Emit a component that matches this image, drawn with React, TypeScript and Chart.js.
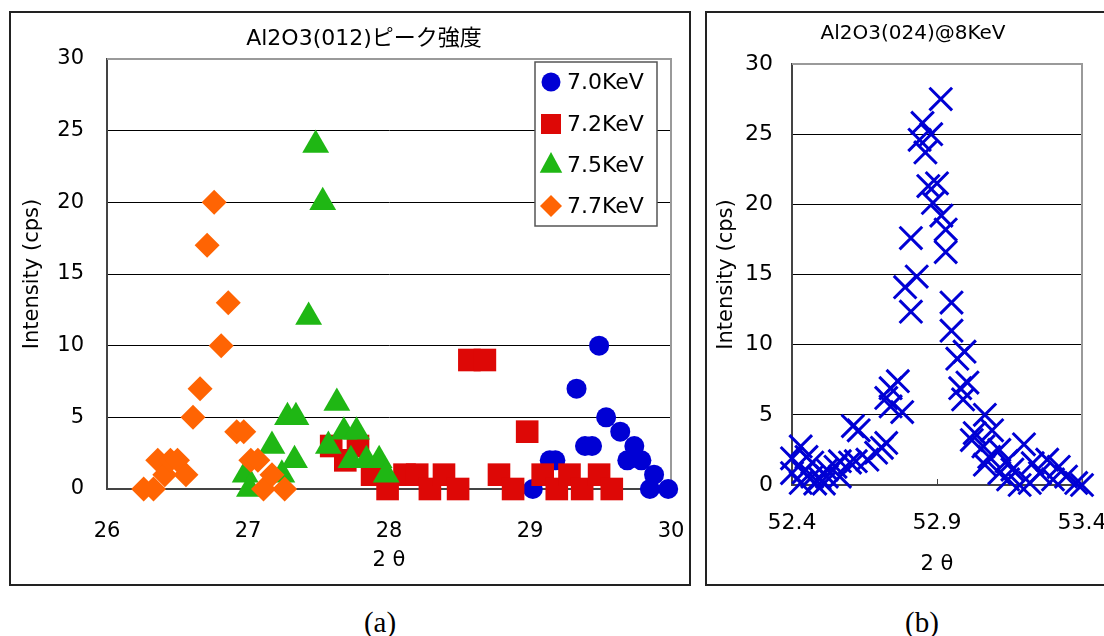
import React, { useEffect, useRef } from "react";
import { Chart, registerables } from "chart.js";

Chart.register(...registerables);

// ---------- data: chart (a) Al2O3(012) ----------
const seriesNames = ["7.0KeV", "7.2KeV", "7.5KeV", "7.7KeV"];
const seriesColors = ["#0000D4", "#DD0806", "#1FB714", "#FF6403"];

const x70 = [29.02, 29.14, 29.18, 29.33, 29.39, 29.44, 29.49, 29.54, 29.64, 29.69, 29.74, 29.79, 29.85, 29.88, 29.98];
const y70 = [0, 2, 2, 7, 3, 3, 10, 5, 4, 2, 3, 2, 0, 1, 0];

const x72 = [27.59, 27.69, 27.78, 27.88, 27.99, 28.11, 28.2, 28.29, 28.39, 28.49, 28.57, 28.68, 28.78, 28.88, 28.98, 29.09, 29.19, 29.28, 29.37, 29.49, 29.58];
const y72 = [3, 2, 3, 1, 0, 1, 1, 0, 1, 0, 9, 9, 1, 0, 4, 1, 0, 1, 0, 1, 0];

const x75 = [26.98, 27.01, 27.17, 27.24, 27.28, 27.33, 27.34, 27.43, 27.48, 27.53, 27.57, 27.63, 27.68, 27.73, 27.77, 27.84, 27.93, 27.98];
const y75 = [1, 0, 3, 1, 5, 2, 5, 12, 24, 20, 3, 6, 4, 2, 4, 2, 2, 1];

const x77 = [26.26, 26.33, 26.36, 26.41, 26.45, 26.5, 26.56, 26.61, 26.66, 26.71, 26.76, 26.81, 26.86, 26.92, 26.97, 27.02, 27.07, 27.11, 27.17, 27.26];
const y77 = [0, 0, 2, 1, 2, 2, 1, 5, 7, 17, 20, 10, 13, 4, 4, 2, 2, 0, 1, 0];

const xTicksA = [26, 27, 28, 29, 30];
const yTicks = [0, 5, 10, 15, 20, 25, 30];

// ---------- data: chart (b) Al2O3(024)@8KeV ----------
const x024 = [
  52.4, 52.4, 52.43, 52.43, 52.44, 52.45, 52.47, 52.47, 52.48, 52.495, 52.51, 52.52, 52.52, 52.55, 52.565, 52.565,
  52.6, 52.61, 52.62, 52.63, 52.66, 52.69, 52.71, 52.725, 52.725, 52.74, 52.74, 52.765, 52.78,
  52.79, 52.81, 52.81, 52.83, 52.84, 52.85, 52.86, 52.87, 52.88, 52.886, 52.9, 52.913, 52.915, 52.93, 52.93, 52.95, 52.95,
  52.97, 52.995, 52.98, 53.005, 52.99, 53.02, 53.03, 53.06, 53.065, 53.065, 53.08, 53.09, 53.115, 53.115, 53.14, 53.145,
  53.16, 53.185, 53.2, 53.22, 53.23, 53.255, 53.28, 53.3, 53.32, 53.345, 53.38, 53.4,
];
const y024 = [
  1.9, 0.85, 2.75, 0.15, 0.9, 2.0, 1.6, 0.6, 0.1, 0.5, 0.1, 1.1, 0.6, 1.3, 1.7, 0.6,
  1.6, 4.2, 1.7, 3.9, 1.8, 2.3, 2.65, 3.0, 6.2, 6.9, 5.6, 7.4, 5.2,
  14.1, 17.6, 12.35, 14.85, 24.6, 25.8, 23.7, 21.3, 25.0, 20.1, 21.5, 27.5, 19.2, 18.2, 16.6, 13.0, 11.0,
  9.0, 9.5, 6.9, 7.3, 6.1, 3.2, 3.7, 2.75, 5.0, 1.45, 2.0, 3.9, 2.5, 0.85, 1.7, 0.4,
  1.1, 0.0, 2.9, 0.15, 1.55, 0.85, 1.8, 0.4, 1.3, 0.6, 0.15, 0.0,
];
const xTicksB = [52.4, 52.9, 53.4];

const FONT = "'DejaVu Sans', 'Noto Sans CJK JP', sans-serif";

const toPts = (xs: number[], ys: number[]) => xs.map((x, i) => ({ x, y: ys[i] }));

const plotFrame = {
  id: "plotFrame",
  beforeDatasetsDraw(chart: any) {
    const { ctx, chartArea } = chart;
    const { left, right, top, bottom } = chartArea;
    ctx.save();
    ctx.strokeStyle = "#9a9a9a";
    ctx.lineWidth = 2;
    ctx.beginPath();
    ctx.moveTo(left, top);
    ctx.lineTo(right, top);
    ctx.lineTo(right, bottom);
    ctx.stroke();
    // small inside tick marks on the x axis
    const xs = chart.scales.x;
    ctx.strokeStyle = "#444";
    ctx.lineWidth = 1;
    xs.ticks.forEach((t: any) => {
      const px = Math.round(xs.getPixelForValue(t.value)) + 0.5;
      ctx.beginPath();
      ctx.moveTo(px, bottom);
      ctx.lineTo(px, bottom - 6);
      ctx.stroke();
    });
    ctx.restore();
  },
};

const titlePlugin = (text: string, x: number, y: number, size: number) => ({
  id: "titleText",
  afterDraw(chart: any) {
    const ctx = chart.ctx;
    ctx.save();
    ctx.font = `${size}px ${FONT}`;
    ctx.fillStyle = "#000";
    ctx.textAlign = "center";
    ctx.textBaseline = "middle";
    ctx.fillText(text, x, y);
    ctx.restore();
  },
});

function drawMarker(ctx: CanvasRenderingContext2D, style: string, x: number, y: number, color: string) {
  ctx.fillStyle = color;
  ctx.beginPath();
  if (style === "circle") {
    ctx.arc(x, y, 9.5, 0, Math.PI * 2);
  } else if (style === "rect") {
    ctx.rect(x - 10, y - 10, 20, 20);
  } else if (style === "triangle") {
    const r = 13;
    ctx.moveTo(x, y - r);
    ctx.lineTo(x + r * 0.866, y + r * 0.6);
    ctx.lineTo(x - r * 0.866, y + r * 0.6);
    ctx.closePath();
  } else {
    const r = 11;
    ctx.moveTo(x, y - r);
    ctx.lineTo(x + r, y);
    ctx.lineTo(x, y + r);
    ctx.lineTo(x - r, y);
    ctx.closePath();
  }
  ctx.fill();
}

const legendStyles = ["circle", "rect", "triangle", "rectRot"];

const legendPlugin = {
  id: "boxLegend",
  afterDraw(chart: any) {
    const ctx = chart.ctx as CanvasRenderingContext2D;
    ctx.save();
    ctx.fillStyle = "#fff";
    ctx.fillRect(524, 49, 122, 164);
    ctx.strokeStyle = "#555";
    ctx.lineWidth = 1.5;
    ctx.strokeRect(524, 49, 122, 164);
    const ys = [69, 111, 152, 193];
    seriesNames.forEach((name, i) => {
      drawMarker(ctx, legendStyles[i], 540, ys[i], seriesColors[i]);
      ctx.fillStyle = "#000";
      ctx.font = `22px ${FONT}`;
      ctx.textAlign = "left";
      ctx.textBaseline = "middle";
      ctx.fillText(name, 556, ys[i] + 1);
    });
    ctx.restore();
  },
};

function makeA(canvas: HTMLCanvasElement) {
  const ds = (i: number, xs: number[], ys: number[], style: string, r: number, order: number) => ({
    label: seriesNames[i],
    data: toPts(xs, ys),
    pointStyle: style,
    pointRadius: r,
    pointHoverRadius: r,
    pointBackgroundColor: seriesColors[i],
    pointBorderColor: seriesColors[i],
    pointBorderWidth: 0,
    backgroundColor: seriesColors[i],
    borderColor: seriesColors[i],
    showLine: false,
    clip: false as any,
    order,
  });
  return new Chart(canvas, {
    type: "scatter",
    data: {
      datasets: [
        ds(0, x70, y70, "circle", 10, 4),
        ds(1, x72, y72, "rect", 16, 3),
        ds(2, x75, y75, "triangle", 15.5, 2),
        ds(3, x77, y77, "rectRot", 12.5, 1),
      ] as any,
    },
    options: {
      responsive: false,
      animation: false,
      devicePixelRatio: 1,
      layout: { padding: { top: 46, right: 18, left: 0, bottom: 0 } },
      plugins: { legend: { display: false }, tooltip: { enabled: false }, title: { display: false } },
      scales: {
        x: {
          type: "linear",
          min: 26,
          max: 30,
          afterBuildTicks: (s: any) => {
            s.ticks = xTicksA.map((v) => ({ value: v }));
          },
          afterFit: (s: any) => {
            s.height = 95;
            s.paddingLeft = 0;
            s.paddingRight = 0;
          },
          ticks: { font: { size: 21, family: FONT }, color: "#000", padding: 30, autoSkip: false, maxRotation: 0 },
          grid: { display: false, drawTicks: false },
          border: { display: true, color: "#444", width: 2 },
          title: { display: true, text: "2 θ", font: { size: 21, family: FONT }, color: "#000", padding: { top: 0, bottom: 11 } },
        },
        y: {
          type: "linear",
          min: 0,
          max: 30,
          afterBuildTicks: (s: any) => {
            s.ticks = yTicks.map((v) => ({ value: v }));
          },
          afterFit: (s: any) => {
            s.width = 96;
            s.paddingTop = 0;
            s.paddingBottom = 0;
          },
          ticks: { font: { size: 21, family: FONT }, color: "#000", padding: 23 },
          grid: { color: "#000", lineWidth: 1, drawTicks: false },
          border: { display: true, color: "#444", width: 2 },
          title: { display: true, text: "Intensity (cps)", font: { size: 21, family: FONT }, color: "#000", padding: { top: 9, bottom: 0 } },
        },
      },
    } as any,
    plugins: [plotFrame, titlePlugin("Al2O3(012)ピーク強度", 353, 26, 22), legendPlugin] as any,
  });
}

function makeB(canvas: HTMLCanvasElement) {
  return new Chart(canvas, {
    type: "scatter",
    data: {
      datasets: [
        {
          label: "Al2O3(024)@8KeV",
          data: toPts(x024, y024),
          pointStyle: "crossRot",
          pointRadius: 16,
          pointHoverRadius: 16,
          pointBorderColor: "#0000D4",
          pointBackgroundColor: "#0000D4",
          pointBorderWidth: 3,
          borderColor: "#0000D4",
          showLine: false,
          clip: false,
        },
      ] as any,
    },
    options: {
      responsive: false,
      animation: false,
      devicePixelRatio: 1,
      layout: { padding: { top: 51, right: 22, left: 0, bottom: 0 } },
      plugins: { legend: { display: false }, tooltip: { enabled: false }, title: { display: false } },
      scales: {
        x: {
          type: "linear",
          min: 52.4,
          max: 53.4,
          afterBuildTicks: (s: any) => {
            s.ticks = xTicksB.map((v) => ({ value: v }));
          },
          afterFit: (s: any) => {
            s.height = 99;
            s.paddingLeft = 0;
            s.paddingRight = 0;
          },
          ticks: {
            font: { size: 22, family: FONT },
            color: "#000",
            padding: 25,
            autoSkip: false,
            maxRotation: 0,
            callback: (v: any) => Number(v).toFixed(1),
          },
          grid: { display: false, drawTicks: false },
          border: { display: true, color: "#444", width: 2 },
          title: { display: true, text: "2 θ", font: { size: 21, family: FONT }, color: "#000", padding: { top: 0, bottom: 7 } },
        },
        y: {
          type: "linear",
          min: 0,
          max: 30,
          afterBuildTicks: (s: any) => {
            s.ticks = yTicks.map((v) => ({ value: v }));
          },
          afterFit: (s: any) => {
            s.width = 85;
            s.paddingTop = 0;
            s.paddingBottom = 0;
          },
          ticks: { font: { size: 22, family: FONT }, color: "#000", padding: 19 },
          grid: { color: "#000", lineWidth: 1, drawTicks: false },
          border: { display: true, color: "#444", width: 2 },
          title: { display: true, text: "Intensity (cps)", font: { size: 21, family: FONT }, color: "#000", padding: { top: 7, bottom: 0 } },
        },
      },
    } as any,
    plugins: [plotFrame, titlePlugin("Al2O3(024)@8KeV", 206, 21, 20)] as any,
  });
}

export default function App() {
  const refA = useRef<HTMLCanvasElement>(null);
  const refB = useRef<HTMLCanvasElement>(null);
  useEffect(() => {
    const a = makeA(refA.current!);
    const b = makeB(refB.current!);
    return () => {
      a.destroy();
      b.destroy();
    };
  }, []);
  const caption: React.CSSProperties = {
    position: "absolute",
    top: 602,
    width: 80,
    textAlign: "center",
    fontFamily: "'Liberation Serif', 'DejaVu Serif', serif",
    fontSize: 29,
    lineHeight: "40px",
    color: "#000",
  };
  return (
    <div style={{ position: "fixed", left: 0, top: 0, width: 1104, height: 636, background: "#fff", overflow: "hidden" }}>
      <div style={{ position: "absolute", left: 9, top: 11, width: 682, height: 575, border: "2px solid #222", boxSizing: "border-box" }} />
      <canvas ref={refA} width={678} height={571} style={{ position: "absolute", left: 11, top: 13, display: "block" }} />
      <div style={{ position: "absolute", left: 705, top: 11, width: 430, height: 575, border: "2px solid #222", boxSizing: "border-box" }} />
      <canvas ref={refB} width={397} height={571} style={{ position: "absolute", left: 707, top: 13, display: "block" }} />
      <div style={{ ...caption, left: 340 }}>(a)</div>
      <div style={{ ...caption, left: 882 }}>(b)</div>
    </div>
  );
}
